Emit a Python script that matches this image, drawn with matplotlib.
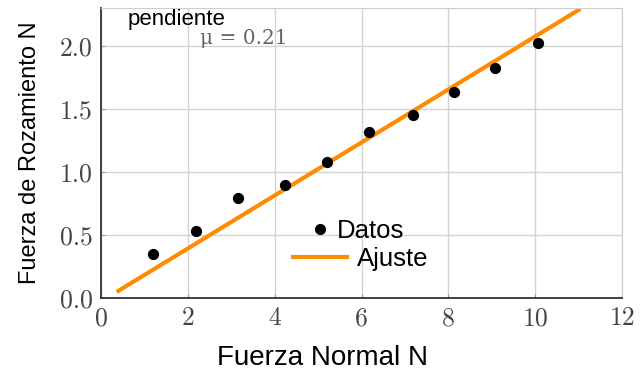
import matplotlib
matplotlib.use("Agg")
import matplotlib.pyplot as plt
from matplotlib.lines import Line2D
import numpy as np

# datos
fuerza_normal = [1.2, 2.19, 3.16, 4.24, 5.21, 6.18, 7.19, 8.13, 9.08, 10.07]
fuerza_roz = [0.35, 0.53, 0.79, 0.90, 1.08, 1.32, 1.45, 1.63, 1.82, 2.02]
pendiente = 0.21
intercepto = -0.026
x_ajuste = [0.4, 11.0]

x_ticks = [0, 2, 4, 6, 8, 10, 12]
y_ticks = [0.0, 0.5, 1.0, 1.5, 2.0]

serif = ["cmr10", "DejaVu Serif"]
sans = "Liberation Sans"
naranja = "#ff8c00"

fig = plt.figure(figsize=(6.4, 3.75), dpi=100)
ax = fig.add_axes([0.158, 0.205, 0.814, 0.774])

ax.grid(True, color="#d3d3d3", linewidth=1)
ax.set_axisbelow(True)

ax.scatter(fuerza_normal, fuerza_roz, color="black", s=50, zorder=3)
xa = np.array(x_ajuste)
ax.plot(xa, pendiente * xa + intercepto, color=naranja, linewidth=3, zorder=2)

ax.set_xlim(0, 12)
ax.set_ylim(0, 2.3)
ax.set_xticks(x_ticks)
ax.set_yticks(y_ticks)
ax.set_xticklabels([str(t) for t in x_ticks], family=serif, color="#444444", fontsize=18.5)
ax.set_yticklabels([f"{t:.1f}" for t in y_ticks], family=serif, color="#444444", fontsize=18.5)
ax.tick_params(direction="in", length=3, color="#999999", pad=6)

for s in ["top", "right"]:
    ax.spines[s].set_color("#cccccc")
for s in ["left", "bottom"]:
    ax.spines[s].set_color("#333333")
    ax.spines[s].set_linewidth(1.3)

ax.set_xlabel("Fuerza Normal N", family=sans, fontsize=20)
ax.xaxis.set_label_coords(0.425, -0.160)
ax.set_ylabel("Fuerza de Rozamiento N", family=sans, fontsize=17)
ax.yaxis.set_label_coords(-0.115, 0.50)

ax.text(128 / 640, 1 - 9 / 375, "pendiente", transform=fig.transFigure, family=sans,
        fontsize=16, va="top", ha="left")
ax.text(200 / 640, 1 - 38 / 375, "μ = 0.21", transform=fig.transFigure, color="#666666",
        fontsize=14.5, va="center", ha="left", family=["DejaVu Serif"])

# dos leyendas separadas, como en la figura original
h_datos = Line2D([], [], marker="o", color="black", linestyle="none", markersize=7)
h_ajuste = Line2D([], [], color=naranja, linewidth=3)
leg1 = ax.legend([h_datos], ["Datos"], loc="center left",
                 bbox_to_anchor=(312 / 640, 1 - 231 / 375), bbox_transform=fig.transFigure,
                 frameon=False, prop={"family": sans, "size": 18.5},
                 handlelength=0.65, handletextpad=0.3, borderpad=0, borderaxespad=0)
ax.add_artist(leg1)
ax.legend([h_ajuste], ["Ajuste"], loc="center left",
          bbox_to_anchor=(293 / 640, 1 - 259 / 375), bbox_transform=fig.transFigure,
          frameon=False, prop={"family": sans, "size": 18.5},
          handlelength=2.1, handletextpad=0.4, borderpad=0, borderaxespad=0)

fig.savefig("out.png", dpi=100)
